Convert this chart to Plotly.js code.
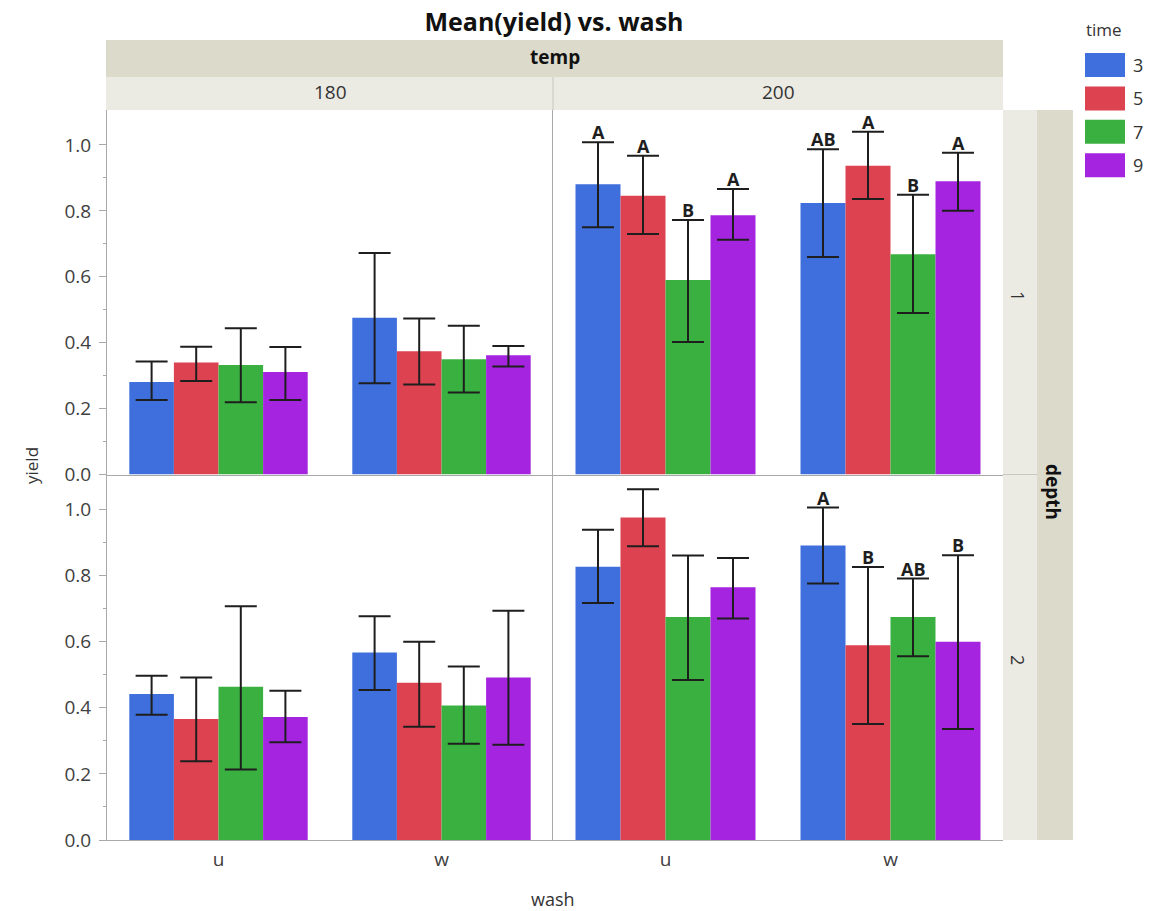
<!DOCTYPE html>
<html>
<head>
<meta charset="utf-8">
<script src="https://cdn.plot.ly/plotly-3.0.1.min.js"></script>
<style>html,body{margin:0;padding:0;background:#fff;}#chart{width:1150px;height:911px;}</style>
</head>
<body>
<div id="chart"></div>
<script>
// ---------- data ----------
const washes = ['u', 'w'];
const times = ['3', '5', '7', '9'];
const temps = ['180', '200'];
const depths = ['1', '2'];
const timeColors = ['#3e6fdc', '#dc4250', '#3ab040', '#a424e0'];

// rows = time (3,5,7,9), cols = wash (u, w)
const mean_t180_d1  = [[0.281, 0.476], [0.340, 0.374], [0.332, 0.350], [0.311, 0.362]];
const upper_t180_d1 = [[0.343, 0.672], [0.388, 0.473], [0.444, 0.451], [0.387, 0.390]];
const lower_t180_d1 = [[0.226, 0.277], [0.284, 0.273], [0.219, 0.249], [0.226, 0.328]];

const mean_t200_d1  = [[0.881, 0.824], [0.846, 0.937], [0.590, 0.668], [0.787, 0.890]];
const upper_t200_d1 = [[1.008, 0.987], [0.967, 1.040], [0.772, 0.849], [0.866, 0.976]];
const lower_t200_d1 = [[0.750, 0.660], [0.730, 0.836], [0.402, 0.490], [0.712, 0.800]];

const mean_t180_d2  = [[0.442, 0.567], [0.366, 0.476], [0.464, 0.407], [0.372, 0.492]];
const upper_t180_d2 = [[0.497, 0.677], [0.492, 0.600], [0.707, 0.525], [0.452, 0.694]];
const lower_t180_d2 = [[0.379, 0.454], [0.238, 0.343], [0.213, 0.291], [0.296, 0.288]];

const mean_t200_d2  = [[0.827, 0.891], [0.976, 0.589], [0.675, 0.675], [0.765, 0.600]];
const upper_t200_d2 = [[0.939, 1.006], [1.061, 0.826], [0.861, 0.791], [0.853, 0.862]];
const lower_t200_d2 = [[0.717, 0.776], [0.889, 0.351], [0.484, 0.556], [0.670, 0.336]];

// connecting letters, rows = time, cols = wash
const letters_t180_d1 = [['', ''], ['', ''], ['', ''], ['', '']];
const letters_t200_d1 = [['A', 'AB'], ['A', 'A'], ['B', 'B'], ['A', 'A']];
const letters_t180_d2 = [['', ''], ['', ''], ['', ''], ['', '']];
const letters_t200_d2 = [['', 'A'], ['', 'B'], ['', 'AB'], ['', 'B']];

const panels = [
  {mean: mean_t180_d1, up: upper_t180_d1, lo: lower_t180_d1, let: letters_t180_d1, xa: 'x',  ya: 'y'},
  {mean: mean_t200_d1, up: upper_t200_d1, lo: lower_t200_d1, let: letters_t200_d1, xa: 'x2', ya: 'y2'},
  {mean: mean_t180_d2, up: upper_t180_d2, lo: lower_t180_d2, let: letters_t180_d2, xa: 'x3', ya: 'y3'},
  {mean: mean_t200_d2, up: upper_t200_d2, lo: lower_t200_d2, let: letters_t200_d2, xa: 'x4', ya: 'y4'}
];

// ---------- helpers ----------
const W = 1150, H = 911;
const px = v => v / W;
const py = v => 1 - v / H;
const FONT = 'Open Sans, DejaVu Sans, sans-serif';

const traces = [];
const annotations = [];
panels.forEach(p => {
  times.forEach((t, ti) => {
    traces.push({
      type: 'bar',
      x: washes,
      y: p.mean[ti],
      xaxis: p.xa, yaxis: p.ya,
      name: t, legendgroup: t, showlegend: false,
      marker: {color: timeColors[ti], line: {width: 0}},
      error_y: {
        type: 'data', symmetric: false,
        array: p.up[ti].map((u, i) => u - p.mean[ti][i]),
        arrayminus: p.lo[ti].map((l, i) => p.mean[ti][i] - l),
        color: '#1e1e1e', thickness: 2, width: 16
      },
      hovertemplate: 'time ' + t + '<br>wash %{x}<br>%{y:.3f}<extra></extra>'
    });
    washes.forEach((w, wi) => {
      const txt = p.let[ti][wi];
      if (txt) {
        annotations.push({
          xref: p.xa, yref: p.ya,
          x: wi + (ti - 1.5) * 0.2, y: p.up[ti][wi],
          text: '<b>' + txt + '</b>', showarrow: false,
          xanchor: 'center', yanchor: 'bottom', yshift: -4,
          font: {family: FONT, size: 18, color: '#1e1e1e'}
        });
      }
    });
  });
});

// ---------- layout geometry ----------
const colL = [px(107), px(553)];
const colR = [px(553), px(1003)];
const rowT = [py(474.5), py(110)];
const rowB = [py(840), py(474.5)];
const yRange = [0, 1.106];
const axisLine = '#a9a9a9';
const tickFont = {family: FONT, size: 19, color: '#404040'};

function yAx(domain, anchor, labels) {
  return {
    domain: domain, anchor: anchor, range: yRange, fixedrange: true,
    showgrid: false, zeroline: false, showline: true, linecolor: axisLine, linewidth: 1,
    tickvals: labels ? [0, 0.2, 0.4, 0.6, 0.8, 1.0] : [],
    ticktext: labels ? ['0.0', '0.2', '0.4', '0.6', '0.8', '1.0'] : [],
    ticks: labels ? 'outside' : '', ticklen: 7, tickcolor: axisLine, ticklabelstandoff: 4,
    minor: labels ? {tickvals: [0.1, 0.3, 0.5, 0.7, 0.9], ticks: 'outside', ticklen: 3, tickcolor: axisLine, showgrid: false} : undefined,
    showticklabels: labels, tickfont: tickFont
  };
}
function xAx(domain, anchor, labels) {
  return {
    domain: domain, anchor: anchor, type: 'category', categoryorder: 'array', categoryarray: washes,
    range: [-0.5, 1.5], fixedrange: true,
    showgrid: false, zeroline: false, showline: true, linecolor: axisLine, linewidth: 1,
    ticks: '', showticklabels: labels, tickfont: tickFont, ticklabelstandoff: 2
  };
}

const stripDark = '#dcdacb';
const stripLight = '#ebeae3';
const shapes = [
  // temp header
  {type: 'rect', xref: 'paper', yref: 'paper', x0: px(106), x1: px(1003), y0: py(77), y1: py(40), fillcolor: stripDark, line: {width: 0}, layer: 'below'},
  // temp values header
  {type: 'rect', xref: 'paper', yref: 'paper', x0: px(106), x1: px(1003), y0: py(110), y1: py(77), fillcolor: stripLight, line: {width: 0}, layer: 'below'},
  {type: 'line', xref: 'paper', yref: 'paper', x0: px(553), x1: px(553), y0: py(110), y1: py(77), line: {color: '#c9c8bf', width: 1}},
  // depth values strip
  {type: 'rect', xref: 'paper', yref: 'paper', x0: px(1003), x1: px(1037), y0: py(840), y1: py(110), fillcolor: stripLight, line: {width: 0}, layer: 'below'},
  {type: 'line', xref: 'paper', yref: 'paper', x0: px(1003), x1: px(1037), y0: py(474.5), y1: py(474.5), line: {color: '#c9c8bf', width: 1}},
  // depth header strip
  {type: 'rect', xref: 'paper', yref: 'paper', x0: px(1037), x1: px(1073), y0: py(840), y1: py(110), fillcolor: stripDark, line: {width: 0}, layer: 'below'}
];

function label(x, y, text, size, opts) {
  return Object.assign({xref: 'paper', yref: 'paper', x: px(x), y: py(y), text: text, showarrow: false,
    xanchor: 'center', yanchor: 'middle', font: {family: FONT, size: size, color: '#333'}}, opts || {});
}

// strip texts and titles
annotations.push(
  label(555, 57, '<b>temp</b>', 19, {font: {family: FONT, size: 19, color: '#111'}}),
  label(330, 92, temps[0], 19),
  label(778, 92, temps[1], 19),
  label(1018, 296, depths[0], 18, {textangle: 90}),
  label(1018, 660, depths[1], 18, {textangle: 90}),
  label(1053, 492, '<b>depth</b>', 19, {textangle: 90, font: {family: FONT, size: 19, color: '#111'}}),
  label(32, 466, 'yield', 17, {textangle: -90}),
  label(553, 899, 'wash', 18),
  label(1084, 30, 'time', 17, {xanchor: 'left'})
);

// custom legend
times.forEach((t, ti) => {
  const top = 53 + ti * 33.4;
  shapes.push({type: 'rect', xref: 'paper', yref: 'paper', x0: px(1085), x1: px(1125), y0: py(top + 24), y1: py(top),
    fillcolor: timeColors[ti], line: {width: 0}});
  annotations.push(label(1131, top + 12, t, 18, {xanchor: 'left'}));
});

const layout = {
  width: W, height: H,
  margin: {l: 0, r: 0, t: 0, b: 0, pad: 0},
  paper_bgcolor: '#ffffff', plot_bgcolor: '#ffffff',
  title: {text: '<b>Mean(yield) vs. wash</b>', x: px(554), xanchor: 'center', y: py(22), yanchor: 'middle', yref: 'paper',
    font: {family: FONT, size: 25, color: '#111'}},
  barmode: 'group', bargap: 0.2, bargroupgap: 0,
  showlegend: false,
  xaxis: xAx(colL, 'y', false),
  xaxis2: xAx(colR, 'y2', false),
  xaxis3: xAx(colL, 'y3', true),
  xaxis4: xAx(colR, 'y4', true),
  yaxis: yAx(rowT, 'x', true),
  yaxis2: yAx(rowT, 'x2', false),
  yaxis3: yAx(rowB, 'x3', true),
  yaxis4: yAx(rowB, 'x4', false),
  shapes: shapes,
  annotations: annotations
};

Plotly.newPlot('chart', traces, layout, {displayModeBar: false});
</script>
</body>
</html>
